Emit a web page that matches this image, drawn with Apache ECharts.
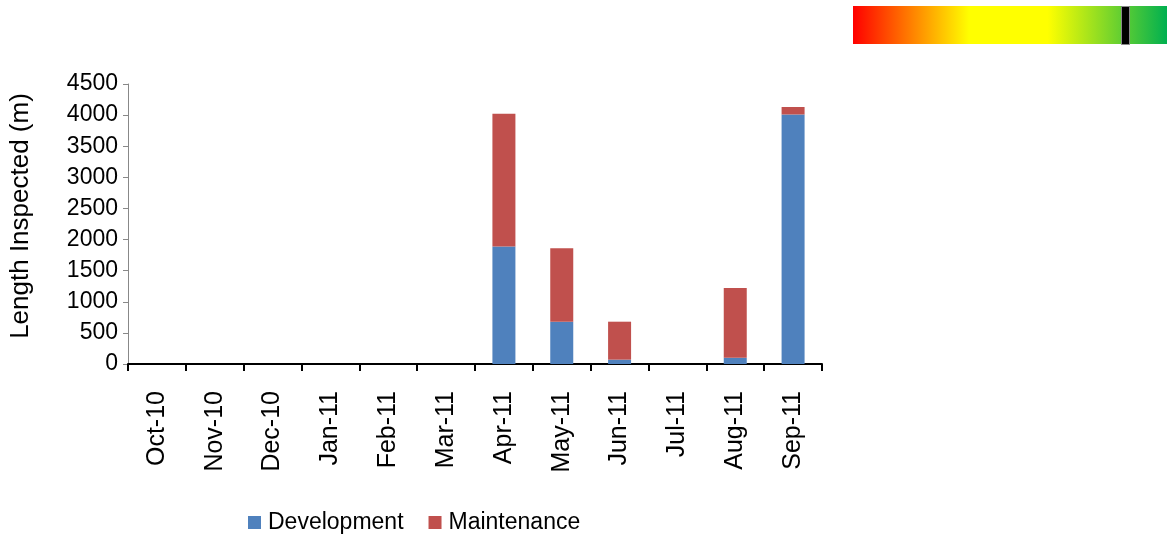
<!DOCTYPE html>
<html>
<head>
<meta charset="utf-8">
<script src="https://cdn.jsdelivr.net/npm/echarts@6/dist/echarts.min.js"></script>
<style>
  html, body { margin: 0; padding: 0; background: #fff; }
  #main { width: 1167px; height: 535px; }
</style>
</head>
<body>
<div id="main"></div>
<script>
var months = ['Oct-10', 'Nov-10', 'Dec-10', 'Jan-11', 'Feb-11', 'Mar-11',
              'Apr-11', 'May-11', 'Jun-11', 'Jul-11', 'Aug-11', 'Sep-11'];
var development = [0, 0, 0, 0, 0, 0, 1890, 680, 70, 0, 100, 4010];
var maintenance = [0, 0, 0, 0, 0, 0, 2130, 1180, 610, 0, 1120, 120];

var myChart = echarts.init(document.getElementById('main'));

option = {
    backgroundColor: '#fff',
    textStyle: { fontFamily: 'Liberation Sans, Arial, sans-serif', color: '#000' },
    animation: false,
    legend: {
        left: 248,
        top: 511,
        padding: 0,
        itemWidth: 13,
        itemHeight: 13,
        itemGap: 25,
        icon: 'rect',
        textStyle: { fontSize: 23, color: '#000', padding: [0, 0, 0, 2] },
        data: ['Development', 'Maintenance']
    },
    grid: {
        left: 128,
        right: 345,
        top: 84,
        bottom: 171
    },
    xAxis: {
        type: 'category',
        data: months,
        axisLine: { lineStyle: { color: '#000', width: 2 } },
        axisTick: { show: true, length: 7, lineStyle: { color: '#000', width: 2 } },
        axisLabel: { rotate: 90, fontSize: 25, color: '#000', margin: 27, interval: 0 }
    },
    yAxis: {
        type: 'value',
        min: 0,
        max: 4500,
        interval: 500,
        name: 'Length Inspected (m)',
        nameLocation: 'middle',
        nameGap: 94,
        nameTextStyle: { fontSize: 26, color: '#000', padding: [0, 0, 0, 16] },
        axisLine: { show: true, lineStyle: { color: '#888', width: 1 } },
        axisTick: { show: true, length: 5, lineStyle: { color: '#888' } },
        axisLabel: {
            fontSize: 23,
            color: '#000',
            margin: 10,
            formatter: function (v) { return String(v); }
        },
        splitLine: { show: false }
    },
    series: [
        {
            name: 'Development',
            type: 'bar',
            stack: 'total',
            barWidth: 23,
            itemStyle: { color: '#4F81BD' },
            data: development
        },
        {
            name: 'Maintenance',
            type: 'bar',
            stack: 'total',
            barWidth: 23,
            itemStyle: { color: '#C0504D' },
            data: maintenance
        }
    ],
    graphic: [
        {
            type: 'rect',
            left: 853,
            top: 6,
            shape: { width: 314, height: 38 },
            style: {
                fill: new echarts.graphic.LinearGradient(0, 0, 1, 0, [
                    { offset: 0, color: '#FF0000' },
                    { offset: 0.37, color: '#FFFF00' },
                    { offset: 0.62, color: '#FFFF00' },
                    { offset: 1, color: '#00B050' }
                ])
            }
        },
        {
            type: 'rect',
            left: 1121,
            top: 6,
            shape: { width: 8, height: 38 },
            style: { fill: '#000', stroke: '#888', lineWidth: 1 }
        }
    ]
};

myChart.setOption(option);
</script>
</body>
</html>
